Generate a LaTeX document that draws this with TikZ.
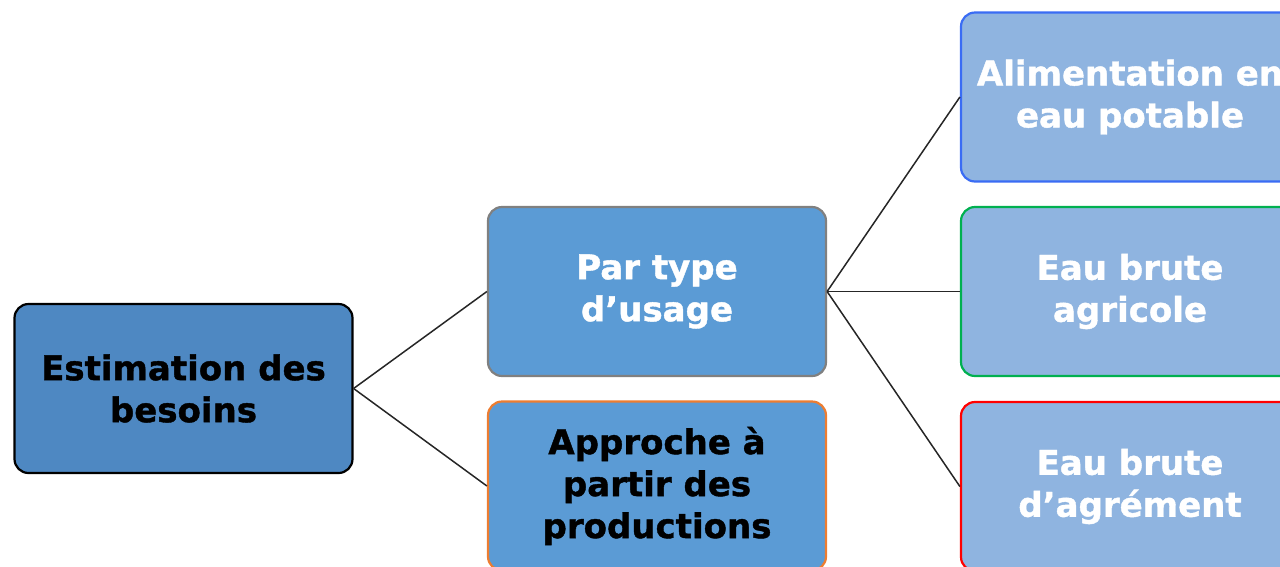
\documentclass[tikz,border=0pt]{standalone}
\usepackage{fontspec}
\setmainfont{DejaVu Sans}[BoldFeatures={FakeBold=1.2}]
\definecolor{darkfill}{HTML}{4E88C2}
\definecolor{midfill}{HTML}{5B9BD5}
\definecolor{lightfill}{HTML}{8FB4E0}
\definecolor{bluebd}{HTML}{3A6CF4}
\definecolor{greenbd}{HTML}{00B050}
\definecolor{redbd}{HTML}{FF0000}
\definecolor{orangebd}{HTML}{ED7D31}
\definecolor{graybd}{HTML}{808080}
\tikzset{
  box/.style={rectangle, rounded corners=14pt, line width=2.2pt, minimum width=338pt, minimum height=169pt,
    align=center, font=\fontsize{34}{42}\selectfont\bfseries, inner sep=0pt},
  conn/.style={line width=1.5pt, black!85}
}
\begin{document}
\begin{tikzpicture}[x=1pt,y=-1pt]
\useasboundingbox (0,0) rectangle (1280,566);
\clip (0,0) rectangle (1280,566);
\node[box, draw=black, fill=darkfill, text=black] (est) at (183.5,388.5) {Estimation des\\besoins};
\node[box, draw=graybd, fill=midfill, text=white] (par) at (657,291.5) {Par type\\d’usage};
\node[box, draw=orangebd, fill=midfill, text=black] (app) at (657,486) {Approche à\\partir des\\productions};
\node[box, draw=bluebd, fill=lightfill, text=white] (ali) at (1130,97) {Alimentation en\\eau potable};
\node[box, draw=greenbd, fill=lightfill, text=white] (agr) at (1130,291.5) {Eau brute\\agricole};
\node[box, draw=redbd, fill=lightfill, text=white] (agm) at (1130,486.5) {Eau brute\\d’agrément};
\draw[conn] (est.east) -- (par.west);
\draw[conn] (est.east) -- (app.west);
\draw[conn] (par.east) -- (ali.west);
\draw[conn] (par.east) -- (agr.west);
\draw[conn] (par.east) -- (agm.west);
\end{tikzpicture}
\end{document}
